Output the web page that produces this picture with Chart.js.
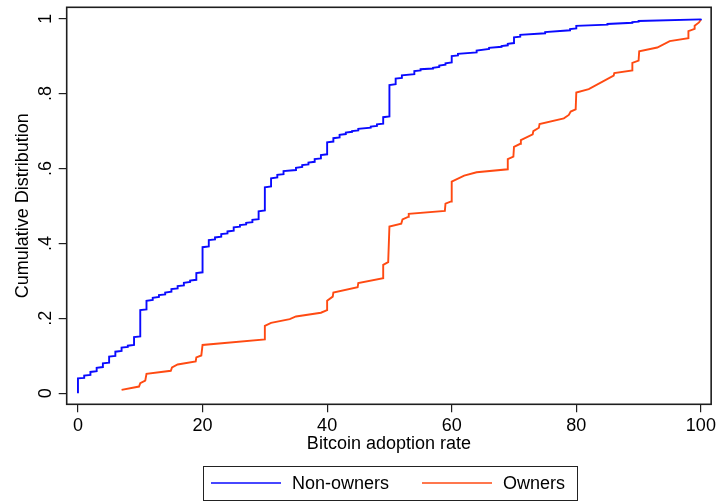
<!DOCTYPE html>
<html>
<head>
<meta charset="utf-8">
<script src="https://cdn.jsdelivr.net/npm/chart.js@4"></script>
<style>
  html, body { margin: 0; padding: 0; background: #fff; }
  #wrap { width: 719px; height: 501px; position: relative; }
</style>
</head>
<body>
<div id="wrap"><canvas id="cdf"></canvas></div>
<script>
// Empirical cumulative distribution of the Bitcoin adoption rate, by ownership.
// Vertical jumps are stored as two points sharing the same rate.
const nonOwnersRate = [
  0, 0, 1, 1, 2, 2, 3, 3, 4, 4, 5, 5, 6, 6, 7, 7, 8, 8, 9, 9,
  10, 10, 11, 11, 12, 12, 13, 13, 14, 14, 15, 15, 16, 16, 17, 17, 18, 18, 19, 19,
  20, 20, 21, 21, 22, 22, 23, 23, 24, 24, 25, 25, 26, 26, 27, 27, 28, 28, 29, 29,
  30, 30, 31, 31, 32, 32, 33, 33, 35, 35, 36, 36, 37, 37, 38, 38, 39, 39,
  40, 40, 41, 41, 42, 42, 43, 43, 44, 44, 45, 45, 47, 47, 48, 48, 49, 49,
  50, 50, 51, 51, 52, 52, 54, 54, 55, 55, 57, 57, 58, 58, 59, 59,
  60, 60, 61, 61, 64, 64, 66, 66, 68, 68, 69, 69, 70, 70, 71, 71, 75, 75, 79, 79,
  80, 80, 85, 85, 89, 89, 90, 90, 100, 100
];
const nonOwnersCum = [
  0.000, 0.040, 0.041, 0.047, 0.049, 0.057, 0.059, 0.068, 0.070, 0.080, 0.082, 0.098, 0.100, 0.111, 0.113, 0.122, 0.124, 0.127, 0.129, 0.150,
  0.152, 0.222, 0.224, 0.247, 0.249, 0.255, 0.257, 0.262, 0.264, 0.269, 0.271, 0.278, 0.280, 0.286, 0.288, 0.295, 0.297, 0.301, 0.303, 0.321,
  0.323, 0.390, 0.392, 0.409, 0.411, 0.416, 0.418, 0.425, 0.427, 0.432, 0.434, 0.443, 0.445, 0.449, 0.451, 0.455, 0.457, 0.463, 0.465, 0.486,
  0.488, 0.550, 0.552, 0.574, 0.576, 0.583, 0.585, 0.593, 0.596, 0.602, 0.604, 0.609, 0.611, 0.616, 0.618, 0.625, 0.627, 0.636,
  0.638, 0.670, 0.672, 0.681, 0.683, 0.690, 0.692, 0.696, 0.698, 0.700, 0.702, 0.706, 0.709, 0.712, 0.714, 0.718, 0.720, 0.737,
  0.739, 0.823, 0.825, 0.840, 0.842, 0.849, 0.852, 0.860, 0.862, 0.865, 0.867, 0.869, 0.871, 0.875, 0.877, 0.881,
  0.883, 0.900, 0.902, 0.906, 0.910, 0.915, 0.919, 0.922, 0.925, 0.927, 0.929, 0.933, 0.935, 0.950, 0.952, 0.957, 0.961, 0.964, 0.969, 0.972,
  0.974, 0.981, 0.984, 0.986, 0.989, 0.991, 0.992, 0.994, 0.998, 1.000
];
const ownersRate = [
  7, 9.8, 10, 10.8, 11, 14.9, 15.1, 16, 18.9, 19, 19.8, 20,
  30, 30, 31, 34, 35, 39, 40, 40, 40.9, 41, 44.9, 45, 49, 49, 49.8,
  50, 51.9, 52.1, 53, 53.1, 58.9, 59, 59.9, 60, 62, 64, 69, 69, 69.9,
  70, 71, 71.1, 73, 73.1, 74, 74.1, 78, 78.8, 79.1, 79.9,
  80, 82, 86, 86.1, 89, 89, 90, 90.1, 93, 95, 98, 98, 99, 99, 99.7, 100
];
const ownersCum = [
  0.009, 0.018, 0.027, 0.034, 0.052, 0.060, 0.069, 0.077, 0.085, 0.096, 0.101, 0.129,
  0.144, 0.180, 0.188, 0.198, 0.205, 0.215, 0.222, 0.247, 0.258, 0.269, 0.283, 0.294, 0.307, 0.343, 0.350,
  0.445, 0.453, 0.464, 0.471, 0.479, 0.487, 0.506, 0.512, 0.565, 0.581, 0.590, 0.598, 0.625, 0.632,
  0.658, 0.666, 0.676, 0.691, 0.700, 0.709, 0.719, 0.734, 0.743, 0.752, 0.758,
  0.803, 0.812, 0.848, 0.855, 0.862, 0.882, 0.888, 0.913, 0.923, 0.940, 0.948, 0.967, 0.973, 0.981, 0.990, 0.998
];
const seriesNames = ['Non-owners', 'Owners'];
const xTicks = [0, 20, 40, 60, 80, 100];
const yTicks = [0, 0.2, 0.4, 0.6, 0.8, 1];
const yTickLabels = ['0', '.2', '.4', '.6', '.8', '1'];

const toPoints = (xs, ys) => xs.map((x, i) => ({ x: x, y: ys[i] }));

Chart.defaults.font.family = '"Liberation Sans", Arial, Helvetica, sans-serif';
Chart.defaults.font.size = 18;
Chart.defaults.color = '#000';

const AXIS = '#1e1e1e';

// Full frame around the plotting region
const framePlugin = {
  id: 'frame',
  afterDraw(chart) {
    const { ctx, chartArea: a } = chart;
    ctx.save();
    ctx.strokeStyle = AXIS;
    ctx.lineWidth = 1.6;
    ctx.strokeRect(a.left, a.top, a.right - a.left, a.bottom - a.top);
    ctx.restore();
  }
};

// Boxed legend underneath the axis title
const boxLegendPlugin = {
  id: 'boxLegend',
  afterDraw(chart) {
    const { ctx } = chart;
    const box = { x: 203, y: 466, w: 374, h: 34 };
    const items = [{ lineX: 211, textX: 292 }, { lineX: 422, textX: 503 }];
    const cy = box.y + box.h / 2;
    ctx.save();
    ctx.strokeStyle = '#222';
    ctx.lineWidth = 1;
    ctx.strokeRect(box.x + 0.5, box.y + 0.5, box.w, box.h);
    ctx.font = '18px "Liberation Sans", Arial, sans-serif';
    ctx.textBaseline = 'middle';
    ctx.textAlign = 'left';
    chart.data.datasets.forEach((ds, i) => {
      const it = items[i];
      ctx.strokeStyle = ds.borderColor;
      ctx.lineWidth = 1.5;
      ctx.beginPath();
      ctx.moveTo(it.lineX, cy);
      ctx.lineTo(it.lineX + 70, cy);
      ctx.stroke();
      ctx.fillStyle = '#000';
      ctx.fillText(ds.label, it.textX, cy + 1);
    });
    ctx.restore();
  }
};

new Chart(document.getElementById('cdf'), {
  type: 'line',
  data: {
    datasets: [
      {
        label: seriesNames[0],
        data: toPoints(nonOwnersRate, nonOwnersCum),
        borderColor: '#0a0aff',
        borderWidth: 1.9,
        pointRadius: 0,
        tension: 0,
        fill: false
      },
      {
        label: seriesNames[1],
        data: toPoints(ownersRate, ownersCum),
        borderColor: '#ff4a12',
        borderWidth: 1.9,
        pointRadius: 0,
        tension: 0,
        fill: false
      }
    ]
  },
  options: {
    responsive: true,
    maintainAspectRatio: false,
    animation: false,
    layout: { padding: { left: 12, top: 7.3, right: 6.7, bottom: 46.2 } },
    plugins: {
      legend: { display: false },
      tooltip: { enabled: false }
    },
    scales: {
      x: {
        type: 'linear',
        min: -1.81,
        max: 101.65,
        afterBuildTicks: s => { s.ticks = xTicks.map(v => ({ value: v })); },
        afterFit: s => { s.height = 50.5; },
        grid: { drawOnChartArea: false, drawTicks: true, tickLength: 8, color: AXIS, lineWidth: 1.2 },
        border: { display: false },
        ticks: { padding: 3, color: '#000', maxRotation: 0, autoSkip: false },
        title: { display: true, text: 'Bitcoin adoption rate', color: '#000', padding: 0 }
      },
      y: {
        type: 'linear',
        min: -0.0294,
        max: 1.0304,
        afterBuildTicks: s => { s.ticks = yTicks.map(v => ({ value: v })); },
        afterFit: s => { s.width = 54.7; s.paddingTop = 0; s.paddingBottom = 0; },
        grid: { drawOnChartArea: false, drawTicks: true, tickLength: 8, color: AXIS, lineWidth: 1.2 },
        border: { display: false },
        ticks: {
          padding: 5,
          color: '#000',
          minRotation: 90,
          maxRotation: 90,
          crossAlign: 'center',
          autoSkip: false,
          callback: v => {
            const i = yTicks.findIndex(t => Math.abs(t - v) < 1e-9);
            return i >= 0 ? yTickLabels[i] : '';
          }
        },
        title: { display: true, text: 'Cumulative Distribution', color: '#000', padding: 0 }
      }
    }
  },
  plugins: [framePlugin, boxLegendPlugin]
});
</script>
</body>
</html>
